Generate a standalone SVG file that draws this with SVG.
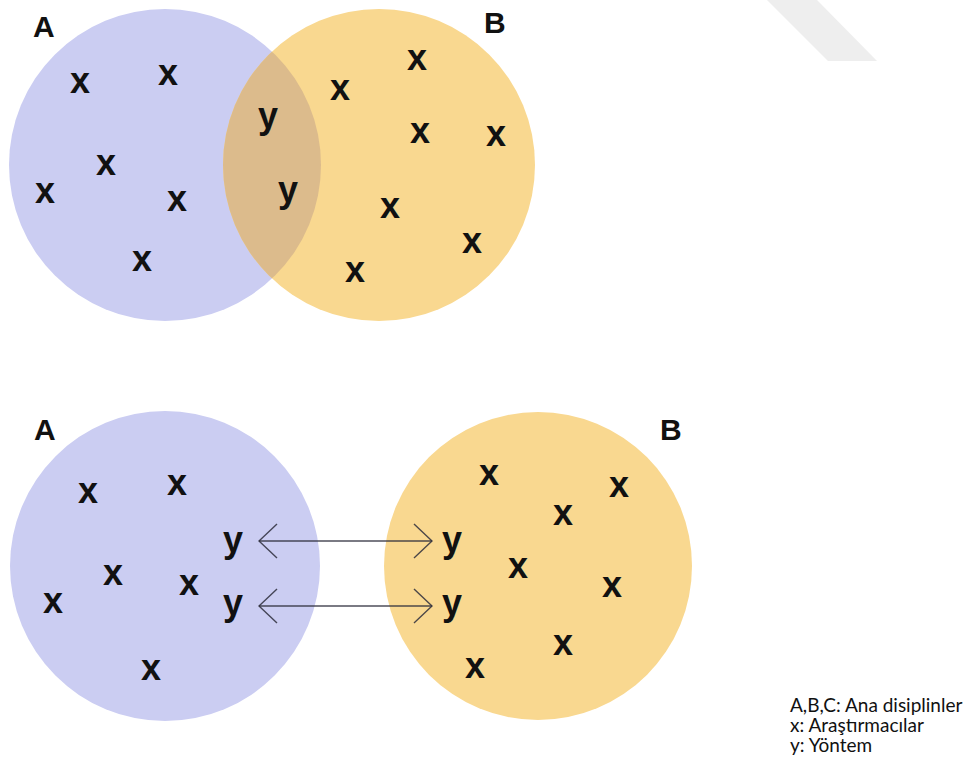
<svg xmlns="http://www.w3.org/2000/svg" width="977" height="775" viewBox="0 0 977 775">
<style>
.ca{fill:#cbcdf2}
.cb{fill:#f9d890}
.ov{fill:#dcbb8c}
.lbl{font-family:"Liberation Sans","DejaVu Sans",sans-serif;font-weight:bold;font-size:30px;fill:#111}
.m{font-family:"Liberation Sans","DejaVu Sans",sans-serif;font-weight:bold;font-size:36px;fill:#111;text-anchor:middle}
.leg{font-family:"Lato","Liberation Sans",sans-serif;font-size:19px;fill:#111}
.arr{stroke:#2e2e3c;stroke-opacity:0.85;stroke-width:1.4;fill:none}
</style>
<defs>
<clipPath id="clipA"><circle cx="165" cy="165" r="156"/></clipPath>
<marker id="head" viewBox="0 0 20 36" refX="19" refY="18" markerWidth="20" markerHeight="36" markerUnits="userSpaceOnUse" orient="auto-start-reverse">
<path d="M1,1 L19,18 L1,35" class="arr"/>
</marker>
</defs>
<polygon points="767,0 817,0 877,61 828,61" fill="#eeeeee"/>
<g id="top-A">
<circle class="ca" cx="165" cy="165" r="156"/>
<text class="lbl" x="33" y="37">A</text>
<text class="m" x="80" y="93">x</text>
<text class="m" x="168" y="85">x</text>
<text class="m" x="106" y="175">x</text>
<text class="m" x="45" y="203">x</text>
<text class="m" x="177" y="211">x</text>
<text class="m" x="142" y="271">x</text>
</g>
<g id="top-B">
<circle class="cb" cx="379" cy="165" r="156"/>
<circle class="ov" cx="379" cy="165" r="156" clip-path="url(#clipA)"/>
<text class="lbl" x="484" y="33">B</text>
<text class="m" x="417" y="70">x</text>
<text class="m" x="340" y="100">x</text>
<text class="m" x="420" y="143">x</text>
<text class="m" x="496" y="146">x</text>
<text class="m" x="390" y="218">x</text>
<text class="m" x="472" y="253">x</text>
<text class="m" x="355" y="282">x</text>
</g>
<g id="top-y">
<text class="m" x="268" y="128">y</text>
<text class="m" x="288" y="202">y</text>
</g>
<g id="bottom-A">
<circle class="ca" cx="165" cy="566" r="155"/>
<text class="lbl" x="34" y="440">A</text>
<text class="m" x="88" y="503">x</text>
<text class="m" x="177" y="495">x</text>
<text class="m" x="113" y="585">x</text>
<text class="m" x="189" y="595">x</text>
<text class="m" x="53" y="613">x</text>
<text class="m" x="151" y="680">x</text>
<text class="m" x="233" y="552">y</text>
<text class="m" x="233" y="615">y</text>
</g>
<g id="bottom-B">
<circle class="cb" cx="538" cy="566" r="154"/>
<text class="lbl" x="660" y="440">B</text>
<text class="m" x="489" y="485">x</text>
<text class="m" x="619" y="497">x</text>
<text class="m" x="563" y="525">x</text>
<text class="m" x="518" y="578">x</text>
<text class="m" x="612" y="597">x</text>
<text class="m" x="563" y="655">x</text>
<text class="m" x="475" y="678">x</text>
<text class="m" x="452" y="552">y</text>
<text class="m" x="452" y="615">y</text>
</g>
<g id="connectors">
<line class="arr" x1="259" y1="541" x2="432" y2="541" marker-start="url(#head)" marker-end="url(#head)"/>
<line class="arr" x1="259" y1="606" x2="432" y2="606" marker-start="url(#head)" marker-end="url(#head)"/>
</g>
<g id="legend">
<text class="leg" x="790" y="712">A,B,C: Ana disiplinler</text>
<text class="leg" x="790" y="732">x: Araştırmacılar</text>
<text class="leg" x="790" y="752">y: Yöntem</text>
</g>
</svg>
